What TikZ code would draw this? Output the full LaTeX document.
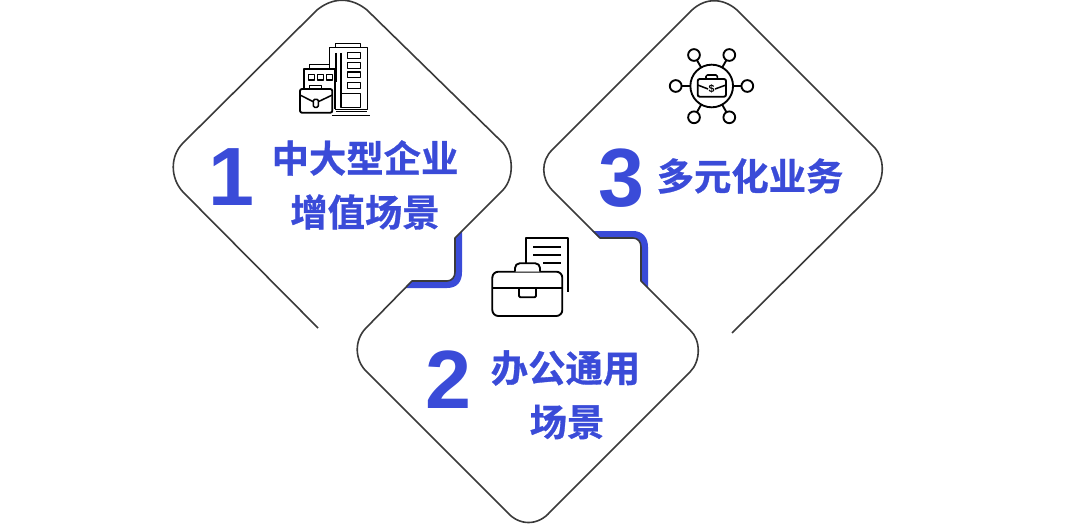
\documentclass[tikz,border=0pt]{standalone}
\usepackage{fontspec}
\setmainfont{Liberation Sans}
\newfontfamily\cjkbold[BoldFont={Noto Sans CJK SC Bold},BoldFeatures={FakeBold=0.8}]{Noto Sans CJK SC}
\definecolor{brandblue}{HTML}{3A4BD8}
\definecolor{outlinegrey}{HTML}{3A3A3A}
\tikzset{
  outline/.style={draw=outlinegrey,line width=1.2pt,line join=round},
  band/.style={fill=brandblue,draw=none},
  icon/.style={draw=black,line width=1.4pt,line join=round},
  thinicon/.style={draw=black,line width=1.15pt,line join=round},
  numeral/.style={text=brandblue,font=\fontsize{62pt}{62pt}\selectfont\bfseries,inner sep=0pt},
  caption/.style={text=brandblue,font=\fontsize{28pt}{28pt}\selectfont\cjkbold\bfseries,inner sep=0pt},
  sat/.style={circle,draw=black,line width=1.4pt,minimum size=8.8pt,inner sep=0pt,outer sep=0pt},
  hub/.style={circle,draw=black,line width=1.4pt,minimum size=32pt,inner sep=0pt,outer sep=0pt}
}
\begin{document}
\begin{tikzpicture}[x=0.75pt,y=-0.75pt]
\useasboundingbox (0,0) rectangle (1080,524);
\fill[white] (0,0) rectangle (1080,524);
% blue bands
\path[band] (405,288) -- (447,288) .. controls (457,288) and (462,282) .. (462,272) -- (462,231) -- (455,238) -- (455,272) .. controls (455,277) and (452,281) .. (447,281) -- (412,281) -- cycle;
\path[band] (592,231) -- (633,231) .. controls (643,231) and (648,238) .. (648,247) -- (648,288) -- (641,281) -- (641,247) .. controls (641,242) and (638,238) .. (633,238) -- (599,238) -- cycle;
% outline of the three diamonds
\draw[outline] (318,328) -- (183,192) .. controls (170,178) and (170,156) .. (183,143)
  -- (317,10) .. controls (333,-3) and (351,-3) .. (367,10)
  -- (503,143) .. controls (514,156) and (514,178) .. (503,190)
  -- (455,238) -- (455,272) .. controls (455,277) and (452,281) .. (447,281) -- (412,281)
  -- (366,328) .. controls (354,340) and (354,361) .. (368,373)
  -- (507,512) .. controls (519,526) and (538,526) .. (550,512)
  -- (690,372) .. controls (701,361) and (701,340) .. (690,330)
  -- (641,281) -- (641,247) .. controls (641,242) and (638,238) .. (633,238) -- (600,238)
  -- (552,190) .. controls (541,178) and (541,161) .. (552,150)
  -- (688,14) .. controls (703,-3) and (722,-3) .. (737,10)
  -- (874,147) .. controls (885,158) and (885,179) .. (874,192)
  -- (732,333);
% numerals and captions
\node[numeral] (n1) at (231,177) {1};
\node[numeral] (n2) at (448,380) {2};
\node[numeral] (n3) at (621,178) {3};
\node[caption] (t1a) at (365,158) {中大型企业};
\node[caption] (t1b) at (365,212) {增值场景};
\node[caption] (t2a) at (565.5,368) {办公通用};
\node[caption] (t2b) at (567,422) {场景};
\node[caption] (t3) at (750,176) {多元化业务};
% icon: buildings with briefcase
\draw[thinicon] (329.3,69) -- (329.3,47.3) -- (367.3,47.3) -- (367.3,109.3) -- (335,109.3);
\draw[thinicon] (335.7,47.3) -- (335.7,43.3) -- (360.7,43.3) -- (360.7,47.3);
\draw[thinicon] (336,53) -- (336,82);
\draw[thinicon] (341,53) -- (341,107.3);
\draw[thinicon] (347.3,52.3) rectangle (360.7,58.3);
\draw[thinicon] (347.3,62.3) rectangle (360.7,68.3);
\draw[thinicon] (347.3,72) rectangle (360.7,77.7);
\draw[thinicon] (347.3,82.3) rectangle (360.7,88.3);
\draw[thinicon] (341,93.3) rectangle (360.7,107.3);
\draw[thinicon] (336,111.5) -- (367,111.5);
\draw[thinicon] (332.3,115.7) -- (370,115.7);
\draw[thinicon] (304,88) -- (304,69) -- (335,69) -- (335,109.3);
\draw[thinicon] (309.3,69) -- (309.3,64.3) -- (329.3,64.3);
\draw[thinicon] (308.3,74.3) rectangle (314.3,80);
\draw[thinicon] (317.3,74.3) rectangle (323.3,80);
\draw[thinicon] (326.7,74.3) rectangle (332.7,80);
\draw[icon,rounded corners=1.5pt,fill=white] (300,89) rectangle (332.3,112.7);
\draw[thinicon] (309.3,89) -- (309.3,85.7) -- (321.7,85.7) -- (321.7,89);
\draw[thinicon] (300,95) -- (313.3,101.7);
\draw[thinicon] (332.3,95) -- (318.3,101.7);
\draw[thinicon,rounded corners=1pt,fill=white] (313.3,99.3) rectangle (318.3,107.3);
% icon: briefcase with document
\draw[icon] (526,263) -- (526,238.3) -- (568.3,238.3) -- (568.3,291.7);
\draw[icon] (533.3,246.7) -- (560.7,246.7);
\draw[icon] (533.3,255) -- (560.7,255);
\draw[icon] (543.3,263.3) -- (560.7,263.3);
\draw[icon,rounded corners=4.5pt,fill=white] (492.3,271.7) rectangle (562.3,316);
\draw[icon] (492.3,288.3) -- (562.3,288.3);
\draw[icon,rounded corners=3.5pt,fill=white] (515,271.7) -- (515,263.3) -- (540,263.3) -- (540,271.7);
\draw[icon,rounded corners=1pt] (519,288.3) -- (519,297.3) -- (536,297.3) -- (536,288.3);
% icon: network with briefcase
\node[hub] (h) at (711.7,86) {};
\node[sat] (s1) at (694,55) {};
\node[sat] (s2) at (729.3,55) {};
\node[sat] (s3) at (675.7,86) {};
\node[sat] (s4) at (747.3,86) {};
\node[sat] (s5) at (694,117.3) {};
\node[sat] (s6) at (729.3,117.3) {};
\foreach \s in {s1,s2,s3,s4,s5,s6} \draw[icon] (h) -- (\s);
\draw[icon,rounded corners=1.5pt] (697.7,79) rectangle (726,96.7);
\draw[thinicon,rounded corners=1pt] (706,79) -- (706,75) -- (717.3,75) -- (717.3,79);
\draw[thinicon] (697.7,85) -- (708,89);
\draw[thinicon] (726,85) -- (715,89);
\node[inner sep=0pt,font=\fontsize{8pt}{8pt}\selectfont\bfseries] (dollar) at (711.7,88.5) {\$};
\end{tikzpicture}
\end{document}
